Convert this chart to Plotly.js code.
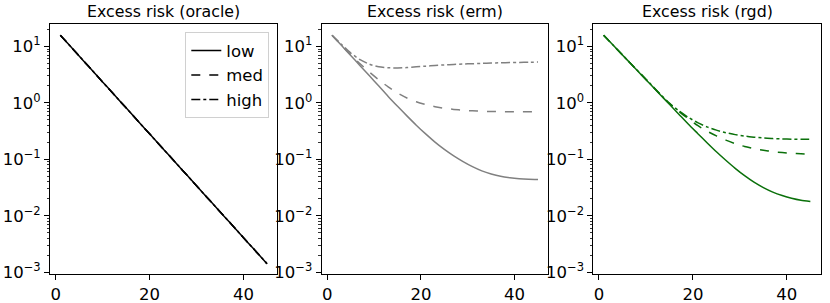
<!DOCTYPE html>
<html>
<head>
<meta charset="utf-8">
<script src="https://cdn.plot.ly/plotly-3.0.1.min.js"></script>
<style>html,body{margin:0;padding:0;background:#fff;}#plot{width:830px;height:303px;}</style>
</head>
<body>
<div id="plot"></div>
<script>
// Iterations (every other step)
const iters = [1,3,5,7,9,11,13,15,17,19,21,23,25,27,29,31,33,35,37,39,41,43,45];

// Oracle (same for all noise levels)
const oracle = [15.85,10.38,6.79,4.45,2.91,1.905,1.247,0.817,0.535,0.350,0.229,0.150,0.0982,0.0643,0.0421,0.0275,0.0180,0.0118,0.00773,0.00506,0.00331,0.00217,0.00142];

// ERM
const ermLow  = [15.85,10.47,6.92,4.57,3.02,1.995,1.303,0.871,0.589,0.403,0.282,0.202,0.150,0.115,0.0912,0.0741,0.0624,0.0550,0.0501,0.0473,0.0455,0.0445,0.0441];
const ermMed  = [15.85,10.47,7.16,4.95,3.51,2.56,1.919,1.496,1.222,1.047,0.933,0.857,0.804,0.767,0.741,0.723,0.711,0.705,0.701,0.700,0.698,0.698,0.698];
const ermHigh = [15.85,10.96,7.67,5.82,4.84,4.37,4.19,4.16,4.23,4.35,4.48,4.60,4.71,4.80,4.88,4.95,5.01,5.08,5.14,5.19,5.22,5.26,5.28];

// RGD
const rgdLow  = [15.85,10.59,7.08,4.73,3.16,2.11,1.413,0.944,0.631,0.422,0.288,0.197,0.136,0.0962,0.0692,0.0513,0.0394,0.0316,0.0263,0.0228,0.0204,0.0188,0.0179];
const rgdMed  = [15.85,10.59,7.08,4.73,3.20,2.14,1.429,0.977,0.708,0.525,0.398,0.316,0.260,0.219,0.190,0.169,0.155,0.145,0.137,0.132,0.128,0.125,0.123];
const rgdHigh = [15.85,10.59,7.08,4.73,3.20,2.16,1.445,0.989,0.724,0.556,0.447,0.376,0.329,0.297,0.274,0.258,0.247,0.239,0.233,0.230,0.228,0.226,0.226];

const levels = ['low','med','high'];
const dashes = ['solid','dash','dashdot'];
const titles = ['Excess risk (oracle)','Excess risk (erm)','Excess risk (rgd)'];
const yTickVals = [0.001,0.01,0.1,1,10];
const yTickText = ['10<sup>−3</sup>','10<sup>−2</sup>','10<sup>−1</sup>','10<sup>0</sup>','10<sup>1</sup>'];
const xTickVals = [0,20,40];
const yMinorVals = [0.002,0.003,0.004,0.005,0.006,0.007,0.008,0.009,0.02,0.03,0.04,0.05,0.06,0.07,0.08,0.09,0.2,0.3,0.4,0.5,0.6,0.7,0.8,0.9,2,3,4,5,6,7,8,9,20];

const W = 830, H = 303;
const panels = [[50,277.3],[321.7,548.3],[593.3,820.7]];
const colors = ['#000000','#808080','#0a700a'];
const seriesSets = [[oracle,oracle,oracle],[ermLow,ermMed,ermHigh],[rgdLow,rgdMed,rgdHigh]];

const traces = [];
seriesSets.forEach((set,p)=>{
  set.forEach((ys,i)=>{
    traces.push({
      x: iters, y: ys, type:'scatter', mode:'lines',
      name: levels[i], showlegend: p===0,
      line:{color:colors[p], width:1.5, dash:dashes[i], shape:'spline', smoothing:0.6},
      xaxis: p===0?'x':'x'+(p+1), yaxis: p===0?'y':'y'+(p+1),
      hoverinfo:'skip'
    });
  });
});

const FF = 'DejaVu Sans, sans-serif';
const tickFont = {family:FF, size:16.5, color:'#000'};
const layout = {
  width:W, height:H,
  margin:{l:0,r:0,t:24,b:29},
  paper_bgcolor:'#fff', plot_bgcolor:'#fff',
  font: {family:FF, size:16, color:'#000'},
  showlegend:true,
  legend:{x:269.3/W, xanchor:'right', y:(274-32.3)/250, yanchor:'top',
          bgcolor:'rgba(255,255,255,0.9)', bordercolor:'#d0d0d0', borderwidth:1,
          font:{family:FF, size:16.5, color:'#000'},
          tracegroupgap:0},
  annotations: titles.map((t,p)=>({
    text:t, xref:'paper', yref:'paper',
    x:(panels[p][0]+panels[p][1])/2/W, y:1, yanchor:'bottom', xanchor:'center',
    yshift:1, showarrow:false, font:{family:FF, size:15.8, color:'#000'}
  }))
};
panels.forEach((pp,p)=>{
  const sx = p===0?'':String(p+1);
  layout['xaxis'+sx] = {
    domain:[pp[0]/W, pp[1]/W], anchor:'y'+sx, range:[-1.2,47.2],
    tickvals:xTickVals, ticktext:xTickVals.map(String),
    showgrid:false, zeroline:false, showline:true, mirror:true,
    linecolor:'#000', linewidth:1, ticks:'outside', ticklen:5, tickwidth:1, tickcolor:'#000',
    tickfont:tickFont
  };
  layout['yaxis'+sx] = {
    domain:[0,1], anchor:'x'+sx, type:'log', range:[Math.log10(0.00093), Math.log10(25)],
    tickvals:yTickVals, ticktext:yTickText,
    showgrid:false, zeroline:false, showline:true, mirror:true,
    linecolor:'#000', linewidth:1, ticks:'outside', ticklen:5, tickwidth:1, tickcolor:'#000',
    tickfont:tickFont,
    minor:{ticks:'outside', ticklen:2.5, tickwidth:0.8, tickcolor:'#000', showgrid:false,
           tickvals:yMinorVals}
  };
});

Plotly.newPlot('plot', traces, layout, {staticPlot:true, displayModeBar:false});
</script>
</body>
</html>
